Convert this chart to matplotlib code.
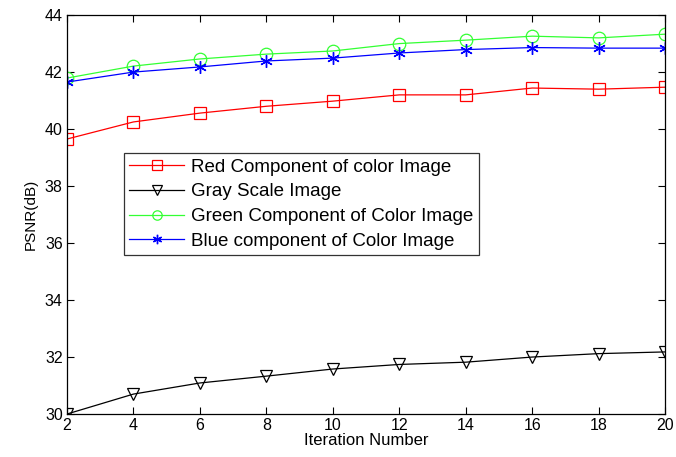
import matplotlib
matplotlib.use("Agg")
import matplotlib.pyplot as plt

plt.rcParams['font.family'] = ['Liberation Sans', 'DejaVu Sans']

iterations = [2, 4, 6, 8, 10, 12, 14, 16, 18, 20]
red_psnr = [39.65, 40.25, 40.56, 40.80, 40.98, 41.20, 41.20, 41.44, 41.40, 41.47]
gray_psnr = [30.00, 30.70, 31.09, 31.33, 31.58, 31.74, 31.82, 32.00, 32.12, 32.18]
green_psnr = [41.79, 42.21, 42.46, 42.63, 42.74, 43.00, 43.12, 43.26, 43.20, 43.33]
blue_psnr = [41.65, 42.00, 42.18, 42.39, 42.49, 42.67, 42.79, 42.86, 42.84, 42.84]

series_labels = ["Red Component of color Image", "Gray Scale Image",
                 "Green Component of Color Image", "Blue component of Color Image"]

fig = plt.figure(figsize=(6.76, 4.57), dpi=100)
ax = fig.add_axes([0.099, 0.094, 0.885, 0.873])

# MATLAB-style asterisk: 6 spokes
asterisk = (6, 2, 0)

ax.plot(iterations, red_psnr, color="red", lw=0.9, marker="s", ms=9,
        mfc="none", mec="red", mew=0.9, label=series_labels[0])
ax.plot(iterations, gray_psnr, color="black", lw=0.9, marker="v", ms=9,
        mfc="none", mec="black", mew=0.9, label=series_labels[1])
ax.plot(iterations, green_psnr, color="#33ff33", lw=0.9, marker="o", ms=9,
        mfc="none", mec="#33ff33", mew=0.9, label=series_labels[2])
ax.plot(iterations, blue_psnr, color="blue", lw=0.9, marker=asterisk, ms=9,
        mec="blue", mew=1.0, label=series_labels[3])

ax.set_xlim(2, 20)
ax.set_ylim(30, 44)
ax.set_xticks(range(2, 21, 2))
ax.set_yticks(range(30, 45, 2))
ax.tick_params(direction="in", top=True, right=True, labelsize=11.5, length=5,
               width=0.8, pad=3)
for sp in ax.spines.values():
    sp.set_linewidth(0.9)

ax.set_xlabel("Iteration Number", fontsize=12, labelpad=0)
ax.set_ylabel("PSNR(dB)", fontsize=11, labelpad=5)

leg = ax.legend(loc="upper left", bbox_to_anchor=(0.095, 0.654), fontsize=13.5,
                frameon=True, fancybox=False, edgecolor="black", borderpad=0.3,
                handlelength=2.9, handletextpad=0.4, labelspacing=0.4,
                markerscale=0.75, borderaxespad=0)
leg.get_frame().set_linewidth(0.9)

fig.savefig("out.png", dpi=100)
